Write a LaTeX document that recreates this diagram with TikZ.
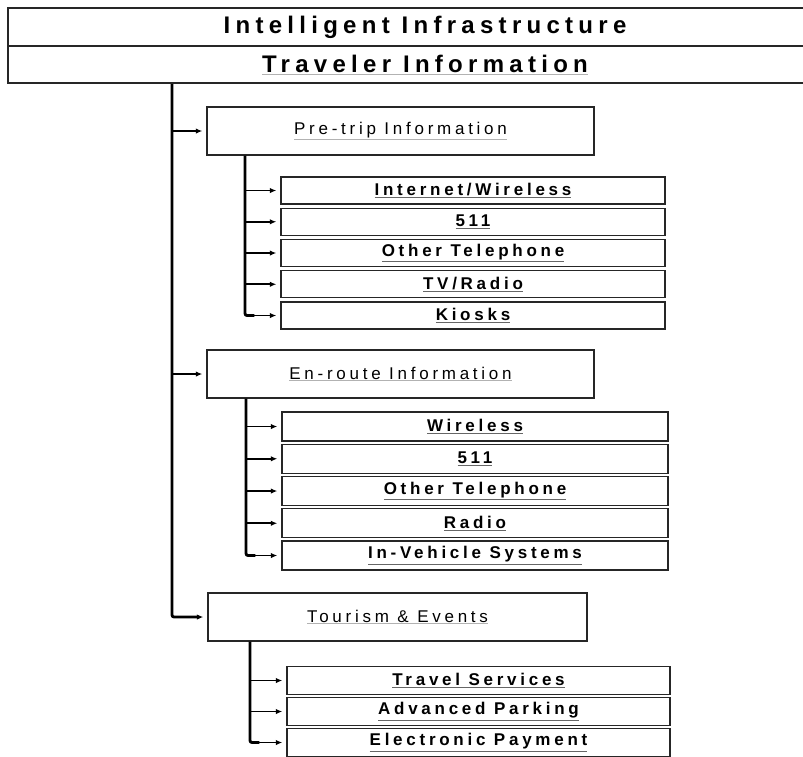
\documentclass[tikz,border=0pt]{standalone}
\usepackage{fontspec}
\usetikzlibrary{arrows.meta}
\newfontfamily\lsans[LetterSpace=22]{Liberation Sans}
\newcommand{\ulx}[1]{{\color{black!60}\underline{\color{black}#1}}}
\newcommand{\ulf}[1]{{\color{black!30}\underline{\color{black}#1}}}
\tikzset{
  hdr/.style={draw=black!85, line width=2pt, rectangle, inner sep=0pt, minimum width=834pt,
              font=\lsans\bfseries\fontsize{24}{26}\selectfont},
  midbox/.style={draw=black!85, line width=1.4pt, rectangle, inner sep=0pt, minimum width=387pt,
              minimum height=48pt, font=\lsans\fontsize{17}{19}\selectfont},
  subbox/.style={draw=black!85, line width=1.4pt, rectangle, inner sep=0pt,
              font=\lsans\bfseries\fontsize{17}{19}\selectfont},
  trunk/.style={draw=black, line width=2.8pt, rounded corners=2pt},
  arr/.style={draw=black, line width=1.8pt, -{Latex[length=6.5pt,width=5.5pt]}, shorten >=4pt}
}
\begin{document}
\begin{tikzpicture}[x=1pt,y=-1pt]
\clip (0,0) rectangle (803,756);
\fill[white] (0,0) rectangle (803,756);
% header
\node[hdr, minimum height=38pt] (hdrA) at (425,27) {Intelligent Infrastructure};
\node[hdr, minimum height=37pt] (hdrB) at (425,64.5) {\ulf{Traveler Information}};
% middle level
\node[midbox] (pre) at (400.5,131) {\ulf{Pre-trip Information}};
\node[midbox] (en) at (400.5,374) {\ulf{En-route Information}};
\node[midbox, minimum width=379pt] (tour) at (397.5,617) {\ulf{Tourism \& Events}};
% pre-trip items
\begin{scope}[every node/.append style={subbox, minimum width=384pt, minimum height=27pt}]
\node (p1) at (473,190.5) {\ulx{Internet/Wireless}};
\node (p2) at (473,221.75) {\ulx{511}};
\node (p3) at (473,253) {\ulx{Other Telephone}};
\node (p4) at (473,284.25) {\ulx{TV/Radio}};
\node (p5) at (473,315.5) {\ulx{Kiosks}};
\end{scope}
% en-route items
\begin{scope}[every node/.append style={subbox, minimum width=386pt, minimum height=29pt}]
\node (e1) at (475,426.5) {\ulx{Wireless}};
\node (e2) at (475,458.75) {\ulx{511}};
\node (e3) at (475,491) {\ulx{Other Telephone}};
\node (e4) at (475,523.25) {\ulx{Radio}};
\node (e5) at (475,555.5) {\ulx{In-Vehicle Systems}};
\end{scope}
% tourism items
\begin{scope}[every node/.append style={subbox, minimum width=383pt, minimum height=28pt}]
\node (t1) at (478.5,680.5) {\ulx{Travel Services}};
\node (t2) at (478.5,711.5) {\ulx{Advanced Parking}};
\node (t3) at (478.5,742.5) {\ulx{Electronic Payment}};
\end{scope}
% trunk positions
\coordinate (mx) at (172,0);
\coordinate (px) at (245,0);
\coordinate (ex) at (246,0);
\coordinate (tx) at (250,0);
% main trunk
\draw[trunk] (hdrB.south -| mx) |- ([xshift=-8pt]tour.west);
\draw[arr] (pre.west -| mx) -- (pre.west);
\draw[arr] (en.west -| mx) -- (en.west);
\draw[arr] ([xshift=-9pt]tour.west) -- (tour.west);
% pre-trip trunk
\draw[trunk] (pre.south -| px) |- ([xshift=-26pt]p5.west);
\foreach \n in {p1,p2,p3,p4,p5} \draw[arr] (\n.west -| px) -- (\n.west);
% en-route trunk
\draw[trunk] (en.south -| ex) |- ([xshift=-26pt]e5.west);
\foreach \n in {e1,e2,e3,e4,e5} \draw[arr] (\n.west -| ex) -- (\n.west);
% tourism trunk
\draw[trunk] (tour.south -| tx) |- ([xshift=-27pt]t3.west);
\foreach \n in {t1,t2,t3} \draw[arr] (\n.west -| tx) -- (\n.west);
\end{tikzpicture}
\end{document}
